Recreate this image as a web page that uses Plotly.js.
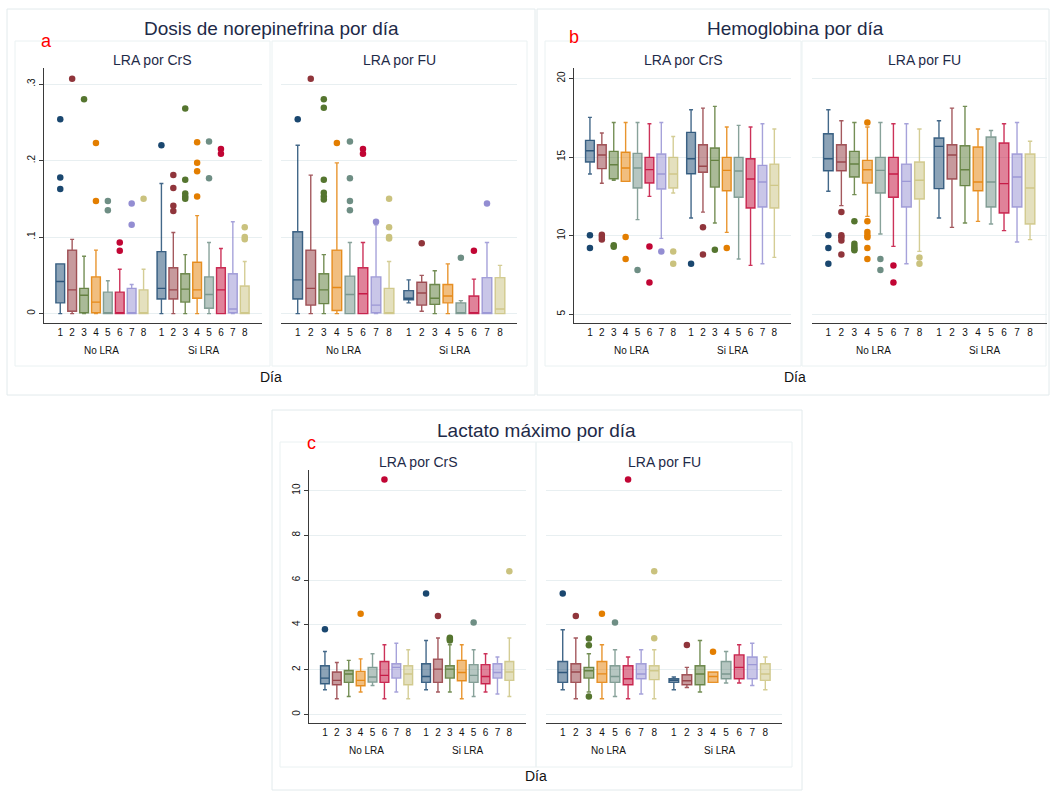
<!DOCTYPE html>
<html><head><meta charset="utf-8">
<script src="https://cdn.plot.ly/plotly-3.0.1.min.js"></script>
<style>html,body{margin:0;padding:0;background:#fff}#chart{width:1052px;height:791px}</style>
</head><body><div id="chart"></div>
<script>
// ---------- DATA ----------
const days = ['1','2','3','4','5','6','7','8'];
const groups = ['No LRA','Si LRA'];
const panelTitles = ['Dosis de norepinefrina por día','Hemoglobina por día','Lactato máximo por día'];
const panelLetters = ['a','b','c'];
const subTitles = ['LRA por CrS','LRA por FU'];
const xTitle = 'Día';
const dayColors = ['#1a476f','#90353b','#55752f','#e37e00','#6e8e84','#c10534','#938dd2','#cac27e'];

// stats per day: [lower whisker, q1, median, q3, upper whisker]
const norCrS_No = [[0,0.014,0.042,0.065,0.065],[0,0.003,0.031,0.083,0.097],[0,0.001,0.024,0.033,0.075],[0,0.001,0.015,0.048,0.083],[0,0,0,0.028,0.043],[0,0,0,0.028,0.058],[0,0,0,0.033,0.038],[0,0,0,0.031,0.058]];
const norCrS_No_out = [[0.254,0.178,0.163],[0.307],[0.280],[0.223,0.147],[0.147,0.135],[0.093,0.082],[0.144,0.116],[0.150]];
const norCrS_Si = [[0,0.019,0.033,0.081,0.170],[0,0.019,0.031,0.060,0.106],[0,0.015,0.032,0.052,0.077],[0,0.020,0.031,0.067,0.128],[0,0.007,0.025,0.048,0.093],[0,0,0.031,0.060,0.085],[0,0.001,0.006,0.052,0.120],[0,0,0,0.036,0.068]];
const norCrS_Si_out = [[0.220],[0.181,0.164,0.141,0.134],[0.268,0.175,0.157,0.153,0.150],[0.224,0.197,0.186,0.153],[0.225,0.177],[0.215,0.209],[],[0.113,0.100,0.097]];
const norFU_No = [[0,0.019,0.044,0.107,0.220],[0,0.011,0.033,0.083,0.181],[0,0.013,0.031,0.052,0.077],[0,0.004,0.034,0.083,0.197],[0,0,0.025,0.049,0.093],[0,0,0.026,0.060,0.093],[0,0.001,0.011,0.048,0.116],[0,0,0,0.033,0.068]];
const norFU_No_out = [[0.254],[0.307],[0.280,0.269,0.175,0.158,0.153,0.149],[0.223],[0.225,0.177,0.147,0.135],[0.215,0.209],[0.120],[0.150,0.113,0.100,0.098]];
const norFU_Si = [[0.014,0.018,0.020,0.030,0.044],[0.003,0.011,0.027,0.041,0.050],[0,0.012,0.020,0.038,0.056],[0,0.014,0.023,0.038,0.065],[0,0,0.001,0.014,0.017],[0,0,0,0.023,0.045],[0,0,0,0.047,0.093],[0,0,0.006,0.047,0.063]];
const norFU_Si_out = [[],[0.092],[],[],[0.073],[0.082],[0.144],[]];

const hbCrS_No = [[13.92,14.68,15.40,16.06,17.52],[13.33,14.26,15.13,15.78,16.53],[13.52,13.62,14.51,15.36,17.2],[13.45,13.45,14.3,15.3,17.2],[11.02,13.03,14.3,15.23,17.2],[12.5,13.35,14.2,14.98,17.12],[9.83,12.97,13.92,15.19,17.2],[12.71,13.03,13.92,14.98,16.31]];
const hbCrS_No_out = [[10.02,9.22],[10.06,9.92,9.75],[9.39,9.30],[9.92,8.52],[7.82],[9.32,7.03],[9.0],[9.0,8.22]];
const hbCrS_Si = [[11.12,13.94,14.89,16.57,18.01],[11.5,14.03,14.41,15.78,18.11],[10.81,13.09,14.79,15.57,18.22],[10.21,12.86,14.15,14.98,16.91],[8.52,12.44,14.11,14.98,17.01],[8.11,11.76,13.6,14.89,16.91],[8.22,11.82,13.41,14.47,17.12],[8.62,11.76,13.2,14.55,16.78]];
const hbCrS_Si_out = [[8.22],[10.53,8.81],[9.11],[9.22],[],[],[],[]];
const hbFU_No = [[12.82,14.13,14.89,16.48,18.01],[11.91,14.13,14.68,15.78,17.31],[12.61,13.73,14.56,15.36,17.2],[11.23,13.35,14.19,14.79,16.91],[10.11,12.71,14.15,14.98,17.2],[9.32,12.44,13.92,14.98,17.12],[8.22,11.82,13.45,14.55,17.12],[9.0,12.33,13.52,14.68,16.78]];
const hbFU_No_out = [[10.02,9.22,8.22],[11.5,10.02,9.9,9.7,8.81],[10.91,9.49,9.32,9.17,9.07],[17.2,10.91,10.23,10.02,9.9,9.22,8.52],[8.52,7.82],[8.11,7.03],[],[8.62,8.22]];
const hbFU_Si = [[11.12,12.99,15.68,16.21,17.31],[10.53,13.6,15.13,15.78,18.11],[10.81,13.18,14.19,15.72,18.22],[10.91,12.86,13.41,15.64,16.78],[10.74,11.82,13.41,16.27,16.69],[10.32,11.44,13.31,15.89,17.12],[9.6,11.82,13.73,15.19,17.2],[9.75,10.74,13.03,15.19,16.0]];
const hbFU_Si_out = [[],[],[],[],[],[],[],[]];

const lacCrS_No = [[1.10,1.37,1.62,2.17,2.81],[0.70,1.32,1.52,1.89,2.32],[0.80,1.43,1.80,1.96,2.41],[1.0,1.28,1.52,1.92,2.48],[1.29,1.44,1.67,2.10,2.71],[0.70,1.43,1.74,2.36,3.11],[1.0,1.62,2.1,2.26,3.18],[0.70,1.32,1.80,2.17,2.89]];
const lacCrS_No_out = [[3.8],[],[],[4.5],[],[10.5],[],[]];
const lacCrS_Si = [[1.1,1.43,1.69,2.26,3.3],[1.0,1.43,2.02,2.47,3.41],[1.0,1.62,2.02,2.17,3.11],[0.70,1.50,1.87,2.41,3.11],[0.80,1.43,1.74,2.22,2.89],[1.0,1.37,1.69,2.22,2.71],[0.91,1.62,1.87,2.26,2.56],[0.8,1.52,1.89,2.36,3.41]];
const lacCrS_Si_out = [[5.4],[4.4],[3.42,3.37,3.3],[],[4.1],[],[],[6.4]];
const lacFU_No = [[1.1,1.43,1.87,2.36,3.78],[0.7,1.43,1.89,2.26,3.41],[1.0,1.62,1.95,2.10,2.71],[0.7,1.43,1.81,2.36,3.11],[0.8,1.43,1.69,2.17,2.89],[0.7,1.32,1.59,2.17,2.56],[0.91,1.59,1.80,2.26,2.89],[0.7,1.55,1.95,2.17,2.89]];
const lacFU_No_out = [[5.4],[4.4],[3.39,3.09,0.8],[4.5],[4.1],[10.5],[],[3.4,6.4]];
const lacFU_Si = [[1.1,1.43,1.52,1.59,1.67],[1.2,1.32,1.50,1.77,2.10],[1.0,1.32,1.80,2.17,3.3],[1.43,1.43,1.69,1.89,1.89],[1.4,1.59,1.80,2.36,2.81],[1.4,1.59,2.1,2.66,3.11],[1.29,1.59,2.22,2.56,3.18],[1.1,1.52,1.80,2.26,2.56]];
const lacFU_Si_out = [[],[3.1],[],[2.8],[],[],[],[]];

const yTickVals = [[0,0.1,0.2,0.3],[5,10,15,20],[0,2,4,6,8,10]];
const yTickText = [['0','.1','.2','.3'],['5','10','15','20'],['0','2','4','6','8','10']];

// ---------- LAYOUT GEOMETRY (pixels) ----------
const W = 1052, H = 791;
const px = x => x / W, py = y => 1 - y / H;
const GAP = 8.5; // Si LRA offset on x
const subplots = [
  {k:1, p:0, crs:true,  no:norCrS_No, noOut:norCrS_No_out, si:norCrS_Si, siOut:norCrS_Si_out, x0:44.3, x1:262, y0:68, y1:323.3, xr:[-0.34,17.95], yr:[-0.0127,0.321]},
  {k:2, p:0, crs:false, no:norFU_No,  noOut:norFU_No_out,  si:norFU_Si,  siOut:norFU_Si_out,  x0:281, x1:517, y0:68, y1:323.3, xr:[-0.28,17.8], yr:[-0.0127,0.321]},
  {k:3, p:1, crs:true,  no:hbCrS_No,  noOut:hbCrS_No_out,  si:hbCrS_Si,  siOut:hbCrS_Si_out,  x0:574, x1:791, y0:68, y1:323.3, xr:[-0.34,17.9], yr:[4.43,20.66]},
  {k:4, p:1, crs:false, no:hbFU_No,   noOut:hbFU_No_out,   si:hbFU_Si,   siOut:hbFU_Si_out,   x0:811.7, x1:1046.7, y0:68, y1:323.3, xr:[-0.28,17.78], yr:[4.43,20.66]},
  {k:5, p:2, crs:true,  no:lacCrS_No, noOut:lacCrS_No_out, si:lacCrS_Si, siOut:lacCrS_Si_out, x0:309, x1:526, y0:470, y1:723.3, xr:[-0.34,17.9], yr:[-0.4,10.92]},
  {k:6, p:2, crs:false, no:lacFU_No,  noOut:lacFU_No_out,  si:lacFU_Si,  siOut:lacFU_Si_out,  x0:546, x1:782.3, y0:470, y1:723.3, xr:[-0.28,17.8], yr:[-0.4,10.92]}
];
const panels = [
  {cx:271, ty:29, lx:46.5, ly:41, dy:377, box:[7,9,535,395], subs:[[15,41,270,366],[272,41,527,366]], subY:60.5, grpY:351},
  {cx:795, ty:29, lx:574.3, ly:37, dy:377, box:[537,9,1049,395], subs:[[545,41,801,366],[802,41,1046,366]], subY:60.5, grpY:351},
  {cx:536, ty:430, lx:311.7, ly:442.5, dy:776, box:[272,410,802,790], subs:[[280,442,536,767],[536,442,792,767]], subY:462, grpY:750.7}
];

function rgba(hex, a){
  const n = parseInt(hex.slice(1),16);
  return `rgba(${(n>>16)&255},${(n>>8)&255},${n&255},${a})`;
}

const traces = [];
const layout = {
  width: W, height: H, margin:{l:0,r:0,t:0,b:0}, paper_bgcolor:'#fff', plot_bgcolor:'rgba(0,0,0,0)',
  showlegend:false, boxmode:'overlay', font:{family:'Liberation Sans, Arial, sans-serif', color:'#1a1a1a'},
  annotations:[], shapes:[]
};
const titleColor = '#1e2a48';

subplots.forEach(s => {
  const xa = 'x'+s.k, ya = 'y'+s.k;
  const tickvals = days.map((d,i)=>i+1).concat(days.map((d,i)=>i+1+GAP));
  const ticktext = days.concat(days);
  layout['xaxis'+s.k] = {
    domain:[px(s.x0), px(s.x1)], range:s.xr, anchor:ya, showgrid:false, zeroline:false,
    showline:true, linecolor:'#3a3a3a', linewidth:1, ticks:'', tickvals, ticktext,
    tickfont:{size:10, color:'#111'}, fixedrange:true
  };
  layout['yaxis'+s.k] = {
    domain:[py(s.y1), py(s.y0)], range:s.yr, anchor:xa, zeroline:false,
    showgrid:true, gridcolor:'#e8eff1', gridwidth:1,
    tickvals:yTickVals[s.p], ticktext:yTickText[s.p],
    showline:s.crs, linecolor:'#3a3a3a', linewidth:1,
    ticks:s.crs?'outside':'', ticklen:4, tickcolor:'#3a3a3a',
    showticklabels:s.crs, tickangle:-90, tickfont:{size:10, color:'#111'}, fixedrange:true
  };
  days.forEach((d,i) => {
    const c = dayColors[i];
    const no = s.no[i], si = s.si[i];
    traces.push({
      type:'box', xaxis:xa, yaxis:ya, x:[i+1, i+1+GAP],
      lowerfence:[no[0], si[0]], q1:[no[1], si[1]], median:[no[2], si[2]], q3:[no[3], si[3]], upperfence:[no[4], si[4]],
      boxpoints:false, width:0.74, whiskerwidth:0.45,
      fillcolor:rgba(c,0.5), line:{color:rgba(c,0.82), width:1.4}, hoverinfo:'skip'
    });
    const ox = [], oy = [];
    s.noOut[i].forEach(v => {ox.push(i+1); oy.push(v);});
    s.siOut[i].forEach(v => {ox.push(i+1+GAP); oy.push(v);});
    if (ox.length) traces.push({
      type:'scatter', mode:'markers', xaxis:xa, yaxis:ya, x:ox, y:oy,
      marker:{color:c, size:6.5, line:{width:0}}, hoverinfo:'skip', cliponaxis:false
    });
  });
  const pn = panels[s.p];
  // sub-title and group labels
  layout.annotations.push({text:subTitles[s.crs?0:1], xref:'paper', yref:'paper', x:px((pn.subs[s.crs?0:1][0]+pn.subs[s.crs?0:1][2])/2 + (s.crs?10:0)), y:py(pn.subY),
    showarrow:false, xanchor:'center', yanchor:'middle', font:{size:14, color:titleColor}});
  groups.forEach((g,gi) => {
    layout.annotations.push({text:g, xref:xa, yref:'paper', x: gi===0 ? 4.5 : 4.5+GAP, y:py(pn.grpY),
      showarrow:false, xanchor:'center', yanchor:'middle', font:{size:10, color:'#111'}});
  });
});

panels.forEach((pn,i) => {
  layout.annotations.push({text:panelTitles[i], xref:'paper', yref:'paper', x:px(pn.cx), y:py(pn.ty),
    showarrow:false, xanchor:'center', yanchor:'middle', font:{size:19, color:titleColor}});
  layout.annotations.push({text:panelLetters[i], xref:'paper', yref:'paper', x:px(pn.lx), y:py(pn.ly),
    showarrow:false, xanchor:'center', yanchor:'middle', font:{size:18, color:'#ff0000'}});
  layout.annotations.push({text:xTitle, xref:'paper', yref:'paper', x:px(pn.cx), y:py(pn.dy),
    showarrow:false, xanchor:'center', yanchor:'middle', font:{size:14, color:'#111'}});
  const b = pn.box;
  layout.shapes.push({type:'rect', xref:'paper', yref:'paper', x0:px(b[0]), x1:px(b[2]), y0:py(b[3]), y1:py(b[1]),
    line:{color:'#e2eaec', width:1}, fillcolor:'rgba(0,0,0,0)', layer:'below'});
  pn.subs.forEach(r => {
    layout.shapes.push({type:'rect', xref:'paper', yref:'paper', x0:px(r[0]), x1:px(r[2]), y0:py(r[3]), y1:py(r[1]),
      line:{color:'#eaf1f2', width:1}, fillcolor:'rgba(0,0,0,0)', layer:'below'});
  });
});

Plotly.newPlot('chart', traces, layout, {staticPlot:true, displayModeBar:false});
</script>
</body></html>
